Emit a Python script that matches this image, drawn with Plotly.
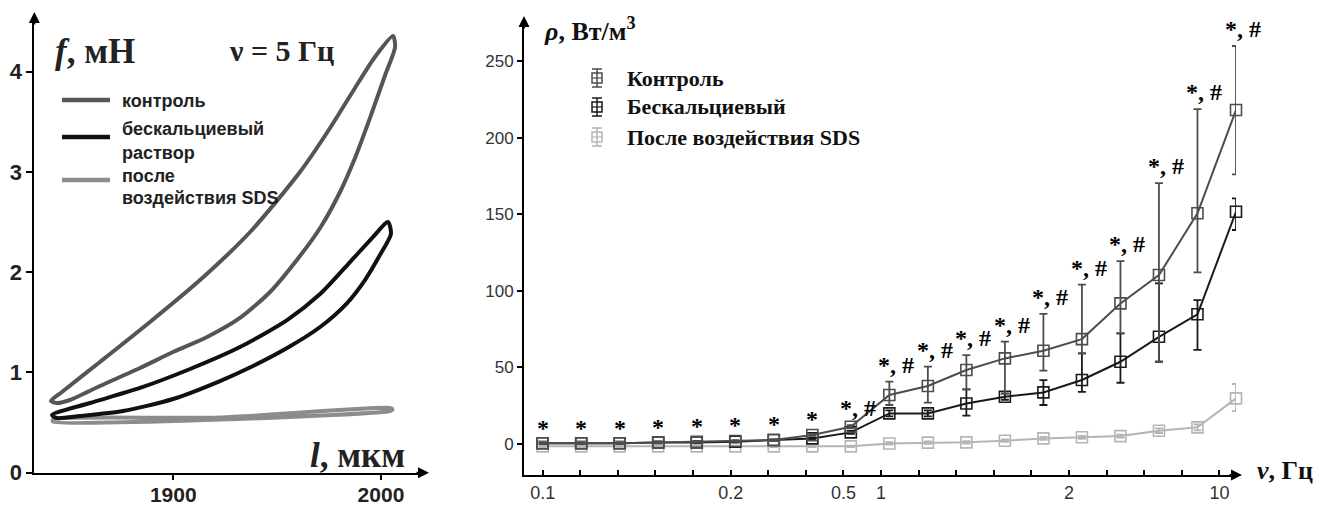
import plotly.graph_objects as go

W, H = 1323, 507

# ---------------- Left panel: hysteresis loops (nu = 5 Hz) ----------------
l_control = [1841.1, 1846.4, 1864.7, 1888.8, 1912.9, 1937.0, 1961.0, 1975.5, 1987.5, 1997.1, 2005.8,
             2006.8, 2002.0, 1994.7, 1987.5, 1980.3, 1970.7, 1961.0, 1946.6, 1932.1, 1916.3, 1899.9, 1884.0,
             1864.7, 1850.3, 1844.0, 1841.1]
f_control = [0.715, 0.805, 1.104, 1.503, 1.921, 2.400, 2.998, 3.437, 3.836, 4.145, 4.354,
             4.244, 3.965, 3.536, 3.138, 2.799, 2.440, 2.161, 1.802, 1.543, 1.353, 1.203, 1.044,
             0.864, 0.725, 0.695, 0.715]

l_nocalc = [1841.6, 1859.9, 1884.0, 1908.1, 1932.1, 1954.8, 1970.7, 1985.1, 1995.7, 2003.4,
            2004.8, 1999.5, 1992.3, 1983.7, 1970.7, 1954.8, 1938.4, 1922.5, 1899.9, 1875.8, 1855.1, 1844.0, 1841.6]
f_nocalc = [0.575, 0.695, 0.845, 1.034, 1.253, 1.522, 1.781, 2.100, 2.340, 2.500,
            2.380, 2.170, 1.921, 1.692, 1.453, 1.243, 1.064, 0.914, 0.735, 0.615, 0.565, 0.545, 0.575]

l_sds = [1842.1, 1922.5, 2004.3, 2005.5, 2004.3, 1922.5, 1842.1, 1842.1]
f_sds = [0.530, 0.550, 0.645, 0.630, 0.615, 0.530, 0.510, 0.530]

left_legend = [["контроль"], ["бескальциевый", "раствор"], ["после", "воздействия SDS"]]
left_colors = ["#555555", "#111111", "#8c8c8c"]

# ---------------- Right panel: rho vs nu ----------------
freq_tick_labels = ["0.1", "", "", "", "", "0.2", "", "", "0.5", "1", "", "", "", "", "2", "", "", "", "10"]
point_index = list(range(19))

rho_control = [0.5, 0.5, 0.5, 1.0, 1.5, 2.0, 2.6, 5.9, 11.3, 32.0, 37.9, 48.3, 55.9, 60.9, 68.5, 91.8, 110.3, 150.6, 218.0]
control_plus = [0.5, 0.5, 0.5, 0.5, 0.5, 0.5, 0.5, 0.5, 1.0, 8.7, 12.6, 9.7, 10.9, 24.0, 35.5, 27.6, 60.0, 68.0, 41.8]
control_minus = [0.5, 0.5, 0.5, 0.5, 0.5, 0.5, 0.5, 0.5, 1.0, 6.5, 10.9, 12.6, 22.8, 13.0, 9.3, 19.6, 56.6, 38.6, 42.0]

rho_nocalc = [0.5, 0.5, 0.5, 1.0, 1.0, 1.5, 2.6, 3.7, 7.6, 20.0, 20.0, 26.5, 30.9, 33.7, 41.8, 53.7, 70.0, 84.7, 151.6]
nocalc_plus = [0.5, 0.5, 0.5, 0.5, 0.5, 0.5, 0.5, 0.5, 1.0, 2.0, 2.0, 9.2, 2.0, 8.0, 17.4, 18.5, 34.9, 9.3, 8.7]
nocalc_minus = [0.5, 0.5, 0.5, 0.5, 0.5, 0.5, 0.5, 0.5, 1.0, 2.0, 2.0, 8.0, 2.0, 8.2, 7.7, 13.7, 16.3, 23.3, 11.9]

rho_sds = [-1.5, -1.5, -1.5, -1.5, -1.5, -1.5, -1.5, -1.5, -1.5, 0.4, 0.9, 1.1, 2.2, 3.7, 4.4, 5.2, 8.7, 10.9, 29.8]
sds_plus = [0.5, 0.5, 0.5, 0.5, 0.5, 0.5, 0.5, 0.5, 0.5, 0.8, 0.8, 0.8, 0.8, 1.0, 1.0, 1.0, 1.5, 2.0, 9.4]
sds_minus = [0.5, 0.5, 0.5, 0.5, 0.5, 0.5, 0.5, 0.5, 0.5, 0.8, 0.8, 0.8, 0.8, 1.0, 1.0, 1.0, 1.5, 2.0, 8.3]

signif_labels = ["*", "*", "*", "*", "*", "*", "*", "*", "*, #", "*, #", "*, #", "*, #", "*, #",
                 "*, #", "*, #", "*, #", "*, #", "*, #", "*, #"]

right_names = ["Контроль", "Бескальциевый", "После воздействия SDS"]
right_colors = ["#4d4d4d", "#1a1a1a", "#b5b5b5"]

SERIF = "Liberation Serif"
SANS = "Liberation Sans"


def px(x):
    return x / W


def py(y):
    return 1 - y / H


fig = go.Figure()

# left loops
for lx, fy, c in [(l_sds, f_sds, left_colors[2]), (l_control, f_control, left_colors[0]),
                  (l_nocalc, f_nocalc, left_colors[1])]:
    fig.add_trace(go.Scatter(x=lx, y=fy, mode="lines", line=dict(color=c, width=4, shape="spline", smoothing=0.7),
                             xaxis="x", yaxis="y", showlegend=False, hoverinfo="skip"))

# right series
series = [
    (rho_sds, sds_plus, sds_minus, right_colors[2]),
    (rho_nocalc, nocalc_plus, nocalc_minus, right_colors[1]),
    (rho_control, control_plus, control_minus, right_colors[0]),
]
for vals, ep, em, c in series:
    fig.add_trace(go.Scatter(
        x=point_index, y=vals, mode="lines+markers",
        line=dict(color=c, width=2),
        marker=dict(symbol="square-open", size=11, color=c, line=dict(width=1.6, color=c)),
        error_y=dict(type="data", symmetric=False, array=ep, arrayminus=em, color=c, thickness=1.8, width=4),
        xaxis="x2", yaxis="y2", showlegend=False, cliponaxis=False))

annotations = []
shapes = []

# significance labels
for i, lab in enumerate(signif_labels):
    top = max(rho_control[i] + control_plus[i], rho_nocalc[i] + nocalc_plus[i])
    annotations.append(dict(x=point_index[i], y=top, xref="x2", yref="y2", text=lab, showarrow=False,
                            xanchor="center", yanchor="middle", yshift=(17 if "#" in lab else 15),
                            xshift=(7 if "#" in lab else 0),
                            font=dict(family=SERIF, size=24, color="black", weight="bold")))


def label(x, y, text, size, family=SERIF, color="#222", xanchor="center"):
    annotations.append(dict(x=px(x), y=py(y), xref="paper", yref="paper", text=text, showarrow=False,
                            xanchor=xanchor, yanchor="middle",
                            font=dict(family=family, size=size, color=color, weight="bold")))


label(95, 52, "<i>f</i>, мН", 35)
label(281, 50, "ν = 5 Гц", 30)
label(357, 455, "<i>l</i>, мкм", 35)
label(542, 30, "<i>ρ</i>, Вт/м<sup>3</sup>", 26, color="#111", xanchor="left")
label(1285, 470, "<i>ν</i>, Гц", 26, color="#111")

# left legend (manual)
leg_line_y = [100, 137, 180]
leg_text_y = [[101], [129, 153], [176, 198]]
for ly, tys, txts, c in zip(leg_line_y, leg_text_y, left_legend, left_colors):
    shapes.append(dict(type="line", xref="paper", yref="paper", x0=px(62), x1=px(110), y0=py(ly), y1=py(ly),
                       line=dict(color=c, width=4.5)))
    for ty, t in zip(tys, txts):
        label(120, ty, t, 18, family=SANS, xanchor="left")

# right legend (manual)
leg_y = [78, 107, 137]
for ly, name, c in zip(leg_y, right_names, right_colors):
    x0 = 597
    shapes.append(dict(type="rect", xref="paper", yref="paper", x0=px(x0 - 5), x1=px(x0 + 5),
                       y0=py(ly - 5), y1=py(ly + 5), line=dict(color=c, width=1.5)))
    shapes.append(dict(type="line", xref="paper", yref="paper", x0=px(x0), x1=px(x0),
                       y0=py(ly - 9), y1=py(ly + 9), line=dict(color=c, width=1.5)))
    shapes.append(dict(type="line", xref="paper", yref="paper", x0=px(x0 - 5), x1=px(x0 + 5),
                       y0=py(ly), y1=py(ly), line=dict(color=c, width=1.2)))
    for cy in (ly - 9, ly + 9):
        shapes.append(dict(type="line", xref="paper", yref="paper", x0=px(x0 - 5), x1=px(x0 + 5),
                           y0=py(cy), y1=py(cy), line=dict(color=c, width=1.5)))
    label(625, ly, name, 22, color="#111", xanchor="left")

# axis arrows
for (xt, yt, ax, ay) in [(34.3, 12, 0, 14), (429, 472.7, -14, 0), (524, 16, 0, 14), (1242, 475, -14, 0)]:
    annotations.append(dict(x=px(xt), y=py(yt), xref="paper", yref="paper", ax=ax, ay=ay, text="",
                            showarrow=True, arrowhead=2, arrowsize=1.1, arrowwidth=2, arrowcolor="black"))

tick_step = 37.6 / 38.52
tick_pos = [i * tick_step for i in point_index]

fig.update_layout(
    width=W, height=H, margin=dict(l=0, r=0, t=0, b=0, autoexpand=False),
    paper_bgcolor="white", plot_bgcolor="white", showlegend=False,
    xaxis=dict(domain=[px(34.3), px(420)], range=[1833.1, 2018.8], tickvals=[1900, 2000], automargin=False,
               showline=True, linecolor="black", linewidth=2, ticks="outside", ticklen=5, tickwidth=2,
               tickcolor="black", showgrid=False, zeroline=False, ticklabelstandoff=-3,
               tickfont=dict(family=SANS, size=21, color="#222", weight="bold")),
    yaxis=dict(domain=[py(472.7), py(22)], range=[0, 4.494], tickvals=[0, 1, 2, 3, 4], automargin=False,
               showline=True, linecolor="black", linewidth=2, ticks="outside", ticklen=6, tickwidth=2,
               tickcolor="black", showgrid=False, zeroline=False,
               tickfont=dict(family=SANS, size=22, color="#222", weight="bold")),
    xaxis2=dict(domain=[px(524), px(1236)], range=[-0.485, 18.0], tickvals=tick_pos, ticktext=freq_tick_labels,
                automargin=False,
                showline=True, linecolor="black", linewidth=2, ticks="inside", ticklen=5, tickwidth=1.5,
                tickcolor="black", showgrid=False, zeroline=False, anchor="y2", ticklabelstandoff=0,
                tickfont=dict(family=SANS, size=18, color="#333")),
    yaxis2=dict(domain=[py(475), py(25)], range=[-20.2, 273.5], tickvals=[0, 50, 100, 150, 200, 250],
                automargin=False,
                showline=True, linecolor="black", linewidth=2, ticks="outside", ticklen=5, tickwidth=1.5,
                tickcolor="black", showgrid=False, zeroline=False, anchor="x2",
                tickfont=dict(family=SANS, size=17, color="#333")),
    annotations=annotations, shapes=shapes,
)

fig.write_html("out.html")
